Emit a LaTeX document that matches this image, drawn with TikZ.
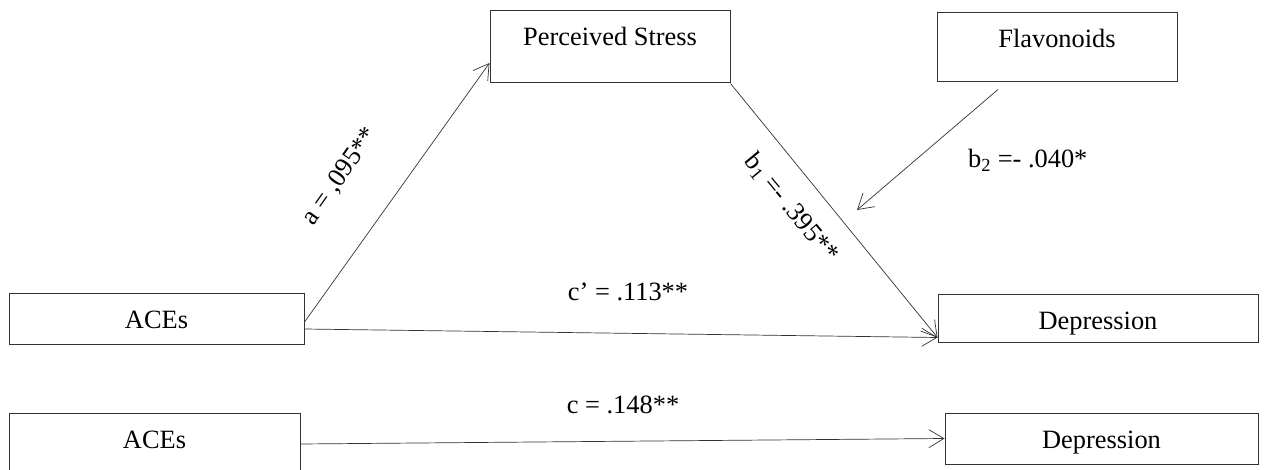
\documentclass[tikz,border=0pt]{standalone}
\usepackage{fontspec}
\setmainfont{Liberation Serif}
\usetikzlibrary{arrows.meta}
\begin{document}
\begin{tikzpicture}[x=1pt,y=-1pt,
  box/.style={draw=black!80, line width=1pt, inner sep=0pt, text height=35pt, font=\fontsize{26.4}{30}\selectfont},
  lbl/.style={inner sep=0pt, font=\fontsize{26.4}{30}\selectfont},
  conn/.style={draw=black!80, line width=0.7pt, -{Straight Barb[length=15pt,width=18pt]}}]
\useasboundingbox (0,0) rectangle (1271,470);
% boxes
\node[box, minimum width=240pt, text depth=37pt] (ps)   at (610,47)    {Perceived Stress};
\node[box, minimum width=240pt, text depth=34pt] (flav) at (1057,47.5) {Flavonoids};
\node[box, minimum width=295pt, text depth=16pt] (acesA) at (156.5,318.5) {ACEs};
\node[box, minimum width=320pt, text depth=13pt] (depA)  at (1098,318)   {Depression};
\node[box, minimum width=291pt, text depth=27pt] (acesB) at (154.5,444)  {ACEs};
\node[box, minimum width=313pt, text depth=16pt] (depB)  at (1101.5,438.5) {Depression};
\coordinate (b2end) at (857,210);
% connectors
\draw[conn] ([yshift=-3.5pt]acesA.east) -- ([yshift=-16pt]ps.west);
\draw[conn] ([yshift=-10.5pt]acesA.east) -- ([yshift=5pt]depA.south west);
\draw[conn] (ps.south east) -- ([yshift=5pt]depA.south west);
\draw[conn] ([xshift=-59pt,yshift=-7pt]flav.south) -- (b2end);
\draw[conn] (acesB.east) -- (depB.west);
% labels
\node[lbl, rotate=54.6] (la) at (340.5,176.5) {a = ,095**};
\node[lbl, rotate=-50.5] (lb1) at (791,208) {b\textsubscript{1} =- .395**};
\node[lbl, anchor=base west] (lb2) at (968,168) {b\textsubscript{2} =- .040*};
\node[lbl, anchor=base] (lcp) at (628,301) {c’ = .113**};
\node[lbl, anchor=base] (lc) at (623,413) {c = .148**};
\end{tikzpicture}
\end{document}
